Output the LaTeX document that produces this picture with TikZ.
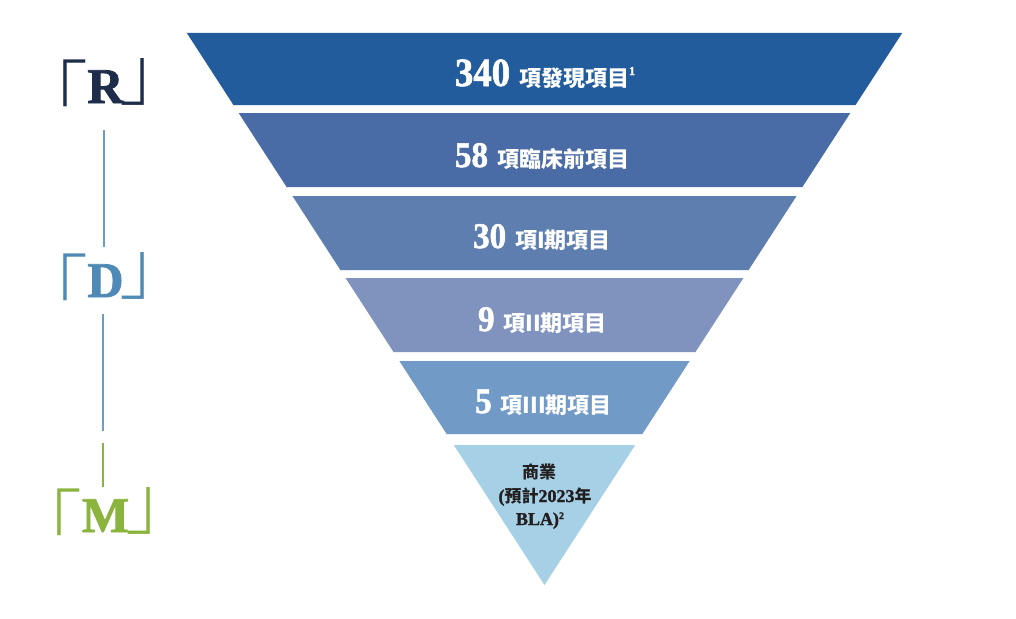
\documentclass[tikz,border=0pt]{standalone}
\usepackage{fontspec}
\usepackage{graphicx}
\setmainfont{Liberation Serif}
\newfontfamily\heavynum{Liberation Serif}[UprightFont=* Bold, UprightFeatures={FakeBold=1.6}]
\newfontfamily\cjk{Noto Sans CJK TC}
\IfFontExistsTF{Noto Sans CJK JP Light}
  {\newfontfamily\brkfont{Noto Sans CJK JP Light}}
  {\newfontfamily\brkfont{Noto Sans CJK JP}}
\definecolor{bandA}{HTML}{225C9D}
\definecolor{bandB}{HTML}{4A6CA6}
\definecolor{bandC}{HTML}{5F7EB0}
\definecolor{bandD}{HTML}{7F93BE}
\definecolor{bandE}{HTML}{729AC6}
\definecolor{bandF}{HTML}{A5D0E6}
\definecolor{labR}{HTML}{1E2D4A}
\definecolor{labD}{HTML}{4E8AB5}
\definecolor{labM}{HTML}{8AB43E}
\definecolor{linkB}{HTML}{6A9EC4}
\definecolor{darktext}{HTML}{231F20}
\newcommand\numtxt[2]{\scalebox{0.92}[1]{\heavynum\fontsize{#1}{#1}\selectfont #2}}
\newcommand\cjktxt[2]{{\cjk\bfseries\fontsize{#1}{#1}\selectfont #2}}
\newcommand\bandtext[3]{\numtxt{#1}{#2}\hspace{9pt}\cjktxt{22}{#3}}
\newcommand\supnum[1]{\raisebox{11pt}{\heavynum\fontsize{12}{12}\selectfont #1}}
\newcommand\stagelabel[1]{\raisebox{-17pt}{\brkfont\fontsize{72}{72}\selectfont 「}\hspace{-1pt}{\heavynum\fontsize{50}{50}\selectfont #1}\hspace{-4pt}\raisebox{4pt}{\brkfont\fontsize{72}{72}\selectfont 」}}
\tikzset{
  bandtxt/.style={anchor=base, inner sep=0pt, text=white},
  comtxt/.style={anchor=base, inner sep=0pt, text=darktext},
  stage/.style={anchor=base, inner sep=0pt},
  link/.style={line width=2pt, draw=linkB}
}
\newcommand\bandshape[3]{%
  \fill[#3] ({544.5-0.648*(585-#1)},#1) -- ({544.5+0.648*(585-#1)},#1)
    -- ({544.5+0.648*(585-#2)},#2) -- ({544.5-0.648*(585-#2)},#2) -- cycle;}
\begin{document}
\begin{tikzpicture}[x=1pt,y=-1pt]
\useasboundingbox (0,0) rectangle (1016,618);
\fill[white] (0,0) rectangle (1016,618);
% funnel bands
\bandshape{33}{105}{bandA}
\bandshape{113}{187}{bandB}
\bandshape{196}{270}{bandC}
\bandshape{278}{352}{bandD}
\bandshape{361}{434}{bandE}
\fill[bandF] ({544.5-0.648*140},445) -- ({544.5+0.648*140},445) -- (544.5,585) -- cycle;
% band texts
\node[bandtxt] (t1) at (545,86) {\bandtext{40}{340}{項發現項目}\supnum{1}};
\node[bandtxt] (t2) at (542,167) {\bandtext{36}{58}{項臨床前項目}};
\node[bandtxt] (t3) at (542,248) {\bandtext{36}{30}{項I期項目}};
\node[bandtxt] (t4) at (542.5,331) {\bandtext{36}{9}{項II期項目}};
\node[bandtxt] (t5) at (543.5,413) {\bandtext{36}{5}{項III期項目}};
% commercial
\node[comtxt] (c1) at (539,478) {\cjktxt{17}{商業}};
\node[comtxt] (c2) at (545,502) {{\heavynum\fontsize{18}{18}\selectfont (}\cjktxt{17}{預計}{\heavynum\fontsize{18}{18}\selectfont 2023}\cjktxt{17}{年}};
\node[comtxt] (c3) at (540,525) {\heavynum\fontsize{18}{18}\selectfont BLA)\raisebox{6pt}{\fontsize{10}{10}\selectfont 2}};
% stage labels
\node[stage, text=labR] (R) at (104,103) {\stagelabel{R}};
\node[stage, text=labD] (D) at (104,297) {\stagelabel{D}};
\node[stage, text=labM] (M) at (104,532) {\stagelabel{M}};
% links
\coordinate (l1a) at (104,130); \coordinate (l1b) at (104,247);
\coordinate (l2a) at (103,314); \coordinate (l2b) at (103,431);
\coordinate (l3a) at (103,443); \coordinate (l3b) at (103,487);
\draw[link] (l1a) -- (l1b);
\draw[link] (l2a) -- (l2b);
\draw[line width=2pt, draw=labM] (l3a) -- (l3b);
\end{tikzpicture}
\end{document}
